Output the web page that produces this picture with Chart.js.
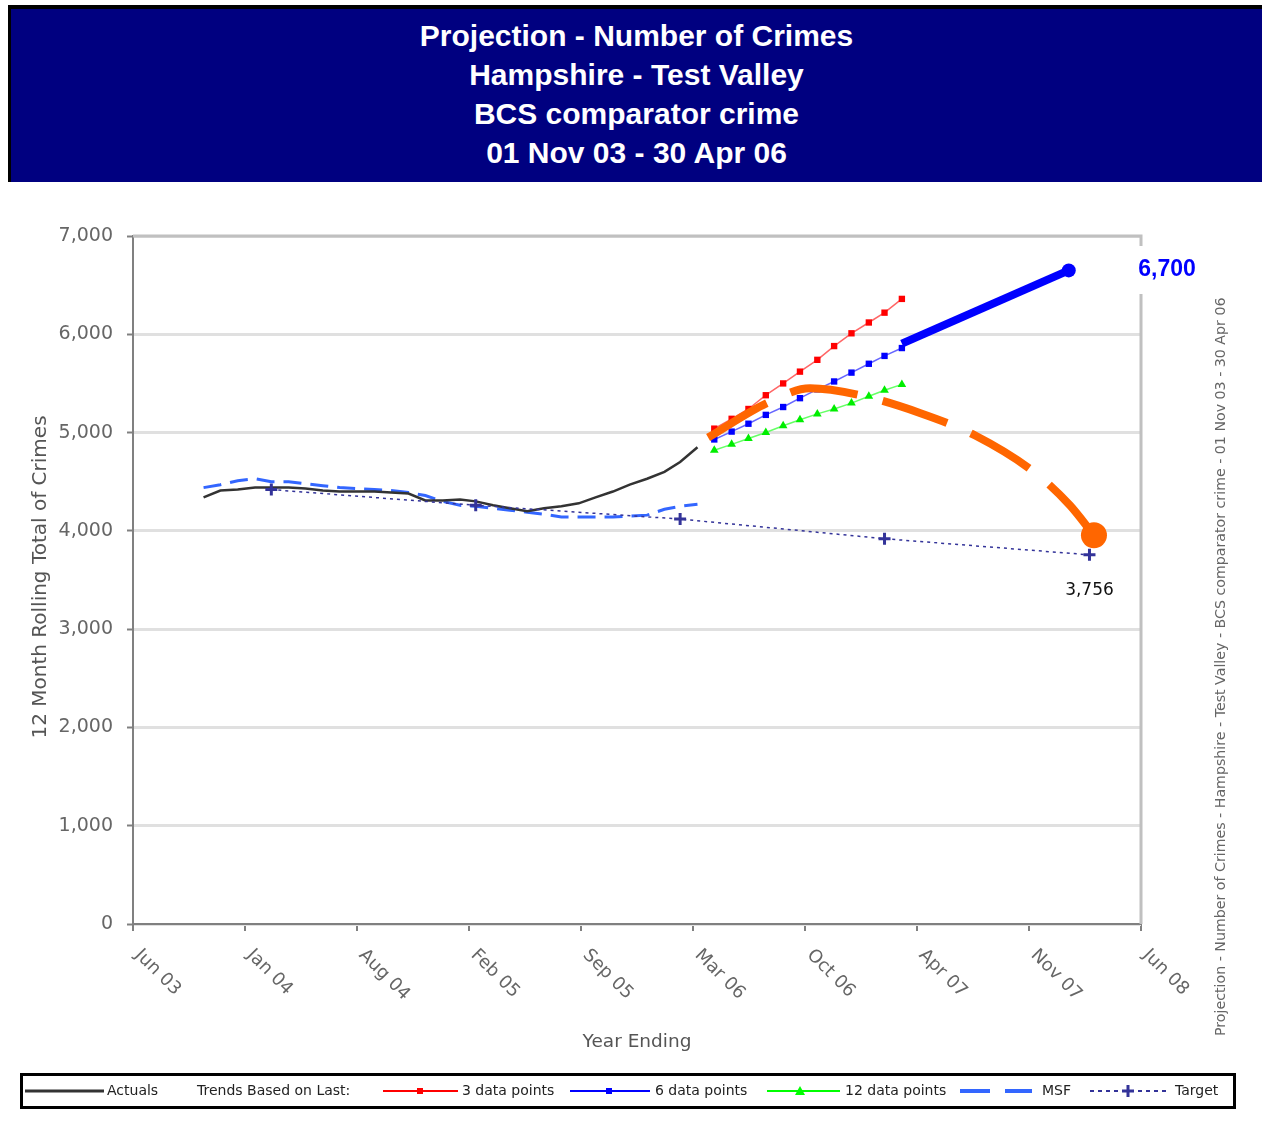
<!DOCTYPE html>
<html>
<head>
<meta charset="utf-8">
<script src="https://cdn.jsdelivr.net/npm/chart.js@4.4.0/dist/chart.umd.min.js"></script>
<style>
  html, body { margin: 0; padding: 0; background: #fff; }
  #wrap { position: relative; width: 1262px; height: 1121px; overflow: hidden; }
  #c { position: absolute; left: 0; top: 0; }
  #title {
    position: absolute; left: 8px; top: 5px; width: 1254px; height: 177px;
    box-sizing: border-box; background: #000080;
    border-top: 4px solid #000; border-left: 3px solid #000;
    color: #fff; font: bold 30px "Liberation Sans", Arial, sans-serif;
    text-align: center; line-height: 39px; padding-top: 7px;
  }
</style>
</head>
<body>
<div id="wrap">
  <canvas id="c" width="1262" height="1121"></canvas>
  <div id="title">Projection - Number of Crimes<br>Hampshire - Test Valley<br>BCS comparator crime<br>01 Nov 03 - 30 Apr 06</div>
</div>
<script>
// x axis: Excel style date axis, 200 day major unit
const axisStart = '2003-06-28'
const tickLabels = ['Jun 03', 'Jan 04', 'Aug 04', 'Feb 05', 'Sep 05', 'Mar 06', 'Oct 06', 'Apr 07', 'Nov 07', 'Jun 08']

const actualMonths = [
  '2003-11', '2003-12',
  '2004-01', '2004-02', '2004-03', '2004-04', '2004-05', '2004-06', '2004-07', '2004-08', '2004-09', '2004-10', '2004-11', '2004-12',
  '2005-01', '2005-02', '2005-03', '2005-04', '2005-05', '2005-06', '2005-07', '2005-08', '2005-09', '2005-10', '2005-11', '2005-12',
  '2006-01', '2006-02', '2006-03', '2006-04'
]
const actualValues = [
  4340, 4410,
  4420, 4440, 4440, 4440, 4430, 4410, 4400, 4400, 4400, 4390, 4380, 4310,
  4310, 4320, 4300, 4260, 4230, 4200, 4230, 4250, 4280, 4340, 4400, 4470,
  4530, 4600, 4700, 4850
]
const msfValues = [
  4440, 4470,
  4510, 4530, 4500, 4500, 4480, 4460, 4440, 4430, 4420, 4410, 4390, 4360,
  4300, 4260, 4250, 4230, 4210, 4190, 4170, 4140, 4140, 4140, 4140, 4150,
  4160, 4220, 4250, 4270
]

const trendMonths = ['2006-05', '2006-06', '2006-07', '2006-08', '2006-09', '2006-10', '2006-11', '2006-12', '2007-01', '2007-02', '2007-03', '2007-04']
const trend3Values = [5040, 5140, 5240, 5380, 5500, 5620, 5740, 5880, 6010, 6120, 6220, 6360]
const trend6Values = [4930, 5010, 5090, 5180, 5260, 5350, 5440, 5520, 5610, 5700, 5780, 5860]
const trend12Values = [4820, 4880, 4940, 5000, 5070, 5130, 5190, 5240, 5300, 5370, 5430, 5490]

const targetDates = ['2004-03-01', '2005-03-01', '2006-03-01', '2007-03-01', '2008-03-01']
const targetValues = [4420, 4260, 4120, 3920, 3756]

// hand drawn projections on top of the chart
const blueDates = ['2007-04-01', '2008-01-24']
const blueValues = [5905, 6650]
const orangeDates = ['2006-04-20', '2006-08-05', '2006-10-19', '2007-01-20', '2007-05-03', '2007-08-10', '2007-11-25', '2008-01-26', '2008-03-09']
const orangeValues = [4950, 5305, 5450, 5375, 5200, 4970, 4590, 4260, 3955]

const dayNum = (s) => {
  const [y, m, d] = s.split('-').map(Number)
  return Date.UTC(y, m - 1, d || 1) / 864e5
}
const pts = (dates, values) => dates.map((s, i) => ({ x: dayNum(s), y: values[i] }))

const xMin = dayNum(axisStart)
const xMax = xMin + 200 * (tickLabels.length - 1)

Chart.defaults.font.family = 'DejaVu Sans'

const lastBig = (r) => (ctx) => ctx.dataIndex === ctx.dataset.data.length - 1 ? r : 0

const decor = {
  id: 'decor',
  afterDraw (chart) {
    const { ctx, chartArea: a, scales: { x, y } } = chart
    ctx.save()

    // plot area top and right edges
    ctx.strokeStyle = '#c0c0c0'
    ctx.lineWidth = 3
    ctx.beginPath()
    ctx.moveTo(a.left, a.top)
    ctx.lineTo(a.right, a.top)
    ctx.lineTo(a.right, a.bottom)
    ctx.stroke()

    // rotated x tick labels
    ctx.fillStyle = '#666'
    ctx.font = '18px "DejaVu Sans"'
    ctx.textAlign = 'left'
    ctx.textBaseline = 'top'
    x.ticks.forEach((t, i) => {
      const px = x.getPixelForValue(t.value)
      ctx.save()
      ctx.translate(px + 11, a.bottom + 22)
      ctx.rotate(Math.PI / 4)
      ctx.fillText(tickLabels[i], 0, 0)
      ctx.restore()
    })

    // axis titles
    ctx.fillStyle = '#555'
    ctx.textAlign = 'center'
    ctx.textBaseline = 'middle'
    ctx.font = '18.5px "DejaVu Sans"'
    ctx.fillText('Year Ending', 637, 1042)
    ctx.save()
    ctx.font = '20px "DejaVu Sans"'
    ctx.translate(41, 577)
    ctx.rotate(-Math.PI / 2)
    ctx.fillText('12 Month Rolling Total of Crimes', 0, 0)
    ctx.restore()

    // side caption
    ctx.save()
    ctx.font = '14.2px "DejaVu Sans"'
    ctx.fillStyle = '#666'
    ctx.textAlign = 'left'
    ctx.translate(1221, 1036)
    ctx.rotate(-Math.PI / 2)
    ctx.fillText('Projection - Number of Crimes - Hampshire - Test Valley - BCS comparator crime - 01 Nov 03 - 30 Apr 06', 0, 0)
    ctx.restore()

    // value labels
    const lastT = targetDates.length - 1
    ctx.fillStyle = '#111'
    ctx.font = '17px "DejaVu Sans"'
    ctx.fillText(targetValues[lastT].toLocaleString('en-US'), x.getPixelForValue(dayNum(targetDates[lastT])), y.getPixelForValue(targetValues[lastT]) + 36)

    ctx.fillStyle = '#fff'
    ctx.fillRect(1112, 246, 112, 48)
    ctx.fillStyle = '#0000ff'
    ctx.font = 'bold 23px "Liberation Sans", Arial'
    ctx.fillText('6,700', 1167, 270)

    // legend
    const ly = 1091
    ctx.strokeStyle = '#000'
    ctx.lineWidth = 3
    ctx.strokeRect(21.5, 1074.5, 1213, 33)

    const seg = (x1, x2, color, w, dash) => {
      ctx.strokeStyle = color
      ctx.lineWidth = w
      ctx.setLineDash(dash || [])
      ctx.beginPath()
      ctx.moveTo(x1, ly)
      ctx.lineTo(x2, ly)
      ctx.stroke()
      ctx.setLineDash([])
    }
    const label = (text, px) => {
      ctx.fillStyle = '#222'
      ctx.font = '14px "DejaVu Sans"'
      ctx.textAlign = 'left'
      ctx.fillText(text, px, ly)
    }
    seg(25, 104, '#333', 3)
    label('Actuals', 107)
    label('Trends Based on Last:', 197)
    seg(383, 458, '#ff0000', 2)
    ctx.fillStyle = '#ff0000'
    ctx.fillRect(417, ly - 3, 6, 6)
    label('3 data points', 462)
    seg(570, 650, '#0000ff', 2)
    ctx.fillStyle = '#0000ff'
    ctx.fillRect(606, ly - 3, 6, 6)
    label('6 data points', 655)
    seg(767, 840, '#00ff00', 2)
    ctx.fillStyle = '#00ff00'
    ctx.beginPath()
    ctx.moveTo(800, ly - 5)
    ctx.lineTo(805, ly + 4)
    ctx.lineTo(795, ly + 4)
    ctx.fill()
    label('12 data points', 845)
    seg(960, 990, '#3366ff', 4)
    seg(1005, 1032, '#3366ff', 4)
    label('MSF', 1042)
    seg(1090, 1170, '#333399', 2, [4, 4])
    ctx.strokeStyle = '#333399'
    ctx.lineWidth = 3
    ctx.beginPath()
    ctx.moveTo(1122, ly); ctx.lineTo(1134, ly)
    ctx.moveTo(1128, ly - 6); ctx.lineTo(1128, ly + 6)
    ctx.stroke()
    label('Target', 1175)

    ctx.restore()
  }
}

new Chart(document.getElementById('c'), {
  type: 'scatter',
  data: {
    datasets: [
      {
        label: 'Projection high',
        data: pts(blueDates, blueValues),
        showLine: true,
        borderColor: '#0000ff',
        borderWidth: 8,
        pointRadius: lastBig(7),
        pointBackgroundColor: '#0000ff',
        pointBorderWidth: 0
      },
      {
        label: 'Projection expected',
        data: pts(orangeDates, orangeValues),
        showLine: true,
        borderColor: '#ff6600',
        borderWidth: 8,
        borderDash: [68, 26],
        cubicInterpolationMode: 'monotone',
        pointRadius: lastBig(13),
        pointBackgroundColor: '#ff6600',
        pointBorderWidth: 0
      },
      {
        label: '3 data points',
        data: pts(trendMonths, trend3Values),
        showLine: true,
        borderColor: '#ff6666',
        borderWidth: 1.5,
        pointStyle: 'rect',
        pointRadius: 4.5,
        pointBackgroundColor: '#ff0000',
        pointBorderWidth: 0
      },
      {
        label: '6 data points',
        data: pts(trendMonths, trend6Values),
        showLine: true,
        borderColor: '#6666ff',
        borderWidth: 1.5,
        pointStyle: 'rect',
        pointRadius: 4.5,
        pointBackgroundColor: '#0000ff',
        pointBorderWidth: 0
      },
      {
        label: '12 data points',
        data: pts(trendMonths, trend12Values),
        showLine: true,
        borderColor: '#66ff66',
        borderWidth: 1.5,
        pointStyle: 'triangle',
        pointRadius: 5,
        pointBackgroundColor: '#00ee00',
        pointBorderWidth: 0
      },
      {
        label: 'Target',
        data: pts(targetDates, targetValues),
        showLine: true,
        borderColor: '#333399',
        borderWidth: 1.5,
        borderDash: [3, 4],
        pointStyle: 'cross',
        pointRadius: 6,
        pointBorderColor: '#333399',
        pointBorderWidth: 3
      },
      {
        label: 'Actuals',
        data: pts(actualMonths, actualValues),
        showLine: true,
        borderColor: '#333333',
        borderWidth: 2.5,
        pointRadius: 0
      },
      {
        label: 'MSF',
        data: pts(actualMonths, msfValues),
        showLine: true,
        borderColor: '#3366ff',
        borderWidth: 3,
        borderDash: [18, 9],
        pointRadius: 0
      }
    ]
  },
  options: {
    responsive: false,
    animation: false,
    layout: { padding: { top: 236, right: 121, bottom: 0, left: 0 } },
    plugins: { legend: { display: false }, tooltip: { enabled: false }, title: { display: false } },
    scales: {
      x: {
        type: 'linear',
        min: xMin,
        max: xMax,
        afterBuildTicks: (s) => { s.ticks = tickLabels.map((_, i) => ({ value: xMin + 200 * i })) },
        afterFit: (s) => { s.height = 197 },
        ticks: { display: false },
        grid: { drawOnChartArea: false, drawTicks: true, tickLength: 7, color: '#808080', lineWidth: 2 },
        border: { color: '#808080', width: 2 }
      },
      y: {
        min: 0,
        max: 7000,
        afterFit: (s) => { s.width = 133 },
        ticks: {
          stepSize: 1000,
          padding: 14,
          color: '#666',
          font: { family: 'DejaVu Sans', size: 19 },
          callback: (v) => v.toLocaleString('en-US')
        },
        grid: { color: '#e0e0e0', lineWidth: 3, tickColor: '#808080', tickLength: 6, tickWidth: 2 },
        border: { color: '#808080', width: 2 }
      }
    }
  },
  plugins: [decor]
})
</script>
</body>
</html>
